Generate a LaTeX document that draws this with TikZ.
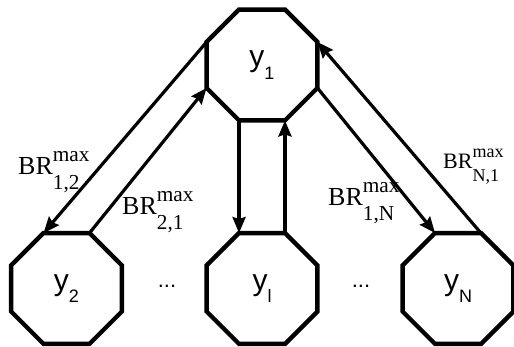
\documentclass[tikz,border=0pt]{standalone}
\usepackage{fontspec}
\setmainfont{Liberation Serif}
\newfontfamily\sansy{Liberation Sans}
\usepackage{graphicx}
\usetikzlibrary{shapes.geometric,arrows.meta}
\newcommand\ylab[1]{{\sansy\fontsize{30}{30}\selectfont y\raisebox{-0.42em}{\scalebox{0.6}{#1}}}}
\newcommand\brlab[1]{BR\rlap{\raisebox{0.5em}{\scalebox{0.82}{max}}}\raisebox{-0.55em}{\scalebox{0.82}{#1}}}
\tikzset{
  octa/.style={draw, line width=4.4pt, regular polygon, regular polygon sides=8,
    minimum size=120pt, inner sep=0pt, outer sep=0pt},
  link/.style={line width=3.2pt, -{Stealth[length=16pt,width=13pt,inset=2pt]}},
  brtext/.style={anchor=base west, inner sep=0pt, font=\fontsize{26}{26}\selectfont},
  brsmall/.style={anchor=base west, inner sep=0pt, font=\fontsize{22}{22}\selectfont},
  dots/.style={inner sep=0pt, font=\sansy\fontsize{22}{22}\selectfont}
}
\begin{document}
\begin{tikzpicture}[x=1pt,y=1pt]
\useasboundingbox (0,0) rectangle (514,347);
\node[octa] (y1) at (262,282) {\ylab{1}};
\node[octa] (y2) at (66.5,58.5) {\ylab{2}};
\node[octa] (yl) at (262,58.5) {\ylab{l}};
\node[octa] (yN) at (458,58.5) {\ylab{N}};
\node[dots] (d1) at (167,61) {...};
\node[dots] (d2) at (361,61) {...};
\draw[link] (y1.corner 3) -- (y2.corner 2);
\draw[link] (y2.corner 1) -- (y1.corner 4);
\draw[link] (y1.corner 5) -- (yl.corner 2);
\draw[link] (yl.corner 1) -- (y1.corner 6);
\draw[link] (y1.corner 7) -- (yN.corner 2);
\draw[link] (yN.corner 1) -- (y1.corner 8);
\node[brtext] (l12) at (18,172) {\brlab{1,2}};
\node[brtext] (l21) at (122,132) {\brlab{2,1}};
\node[brtext] (l1N) at (328,141) {\brlab{1,N}};
\node[brsmall] (lN1) at (443,178) {\brlab{N,1}};
\end{tikzpicture}
\end{document}
